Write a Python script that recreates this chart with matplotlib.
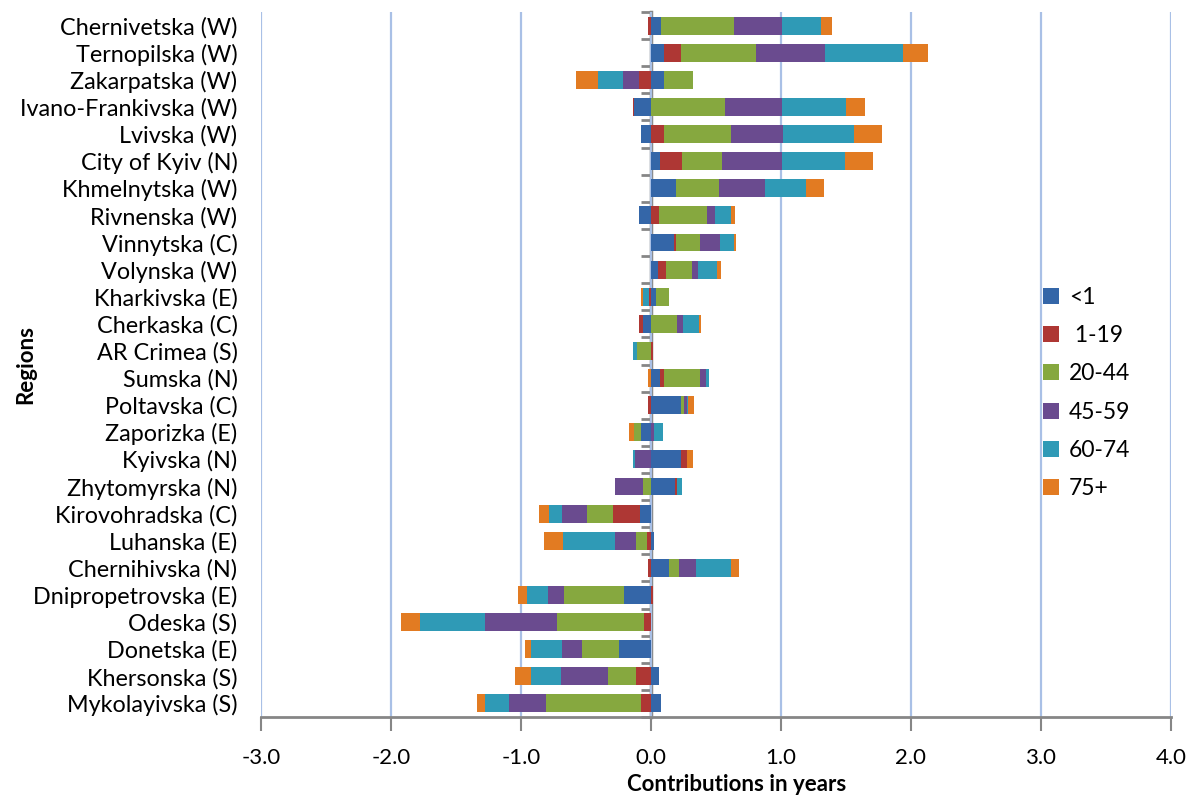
import matplotlib
matplotlib.use("Agg")
import matplotlib.pyplot as plt
import numpy as np
from matplotlib.patches import Patch

plt.rcParams['font.family'] = ['Lato', 'DejaVu Sans']

regions = ["Chernivetska (W)", "Ternopilska (W)", "Zakarpatska (W)", "Ivano-Frankivska (W)",
           "Lvivska (W)", "City of Kyiv (N)", "Khmelnytska (W)", "Rivnenska (W)",
           "Vinnytska (C)", "Volynska (W)", "Kharkivska (E)", "Cherkaska (C)",
           "AR Crimea (S)", "Sumska (N)", "Poltavska (C)", "Zaporizka (E)",
           "Kyivska (N)", "Zhytomyrska (N)", "Kirovohradska (C)", "Luhanska (E)",
           "Chernihivska (N)", "Dnipropetrovska (E)", "Odeska (S)", "Donetska (E)",
           "Khersonska (S)", "Mykolayivska (S)"]

age_groups = ["<1", " 1-19", "20-44", "45-59", "60-74", "75+"]

lt1 = [0.08, 0.10, 0.10, -0.13, -0.08, 0.07, 0.19, -0.095, 0.18, 0.05, 0.04, -0.06, 0.0,
       0.07, 0.23, -0.077, 0.23, 0.185, -0.087, 0.02, 0.138, -0.208, 0.0, -0.246, 0.062, 0.08]
a1_19 = [-0.025, 0.13, -0.09, -0.01, 0.10, 0.165, 0.0, 0.065, 0.01, 0.065, -0.015, -0.03, 0.013,
         0.027, -0.02, 0.0, 0.046, 0.018, -0.205, -0.03, -0.02, 0.018, -0.054, 0.0, -0.115, -0.077]
a20_44 = [0.555, 0.577, 0.22, 0.57, 0.518, 0.313, 0.33, 0.365, 0.19, 0.2, 0.10, 0.197, -0.11,
          0.277, 0.026, -0.051, 0.0, -0.062, -0.203, -0.087, 0.08, -0.46, -0.67, -0.287, -0.213, -0.73]
a45_59 = [0.37, 0.53, -0.125, 0.44, 0.40, 0.457, 0.354, 0.06, 0.15, 0.047, 0.0, 0.046, 0.0,
          0.05, 0.02, 0.023, -0.12, -0.215, -0.19, -0.162, 0.128, -0.123, -0.556, -0.151, -0.364, -0.285]
a60_74 = [0.30, 0.60, -0.195, 0.49, 0.547, 0.49, 0.318, 0.125, 0.105, 0.146, -0.05, 0.123, -0.03,
          0.02, 0.01, 0.067, -0.02, 0.035, -0.10, -0.40, 0.27, -0.16, -0.495, -0.238, -0.231, -0.182]
a75p = [0.09, 0.195, -0.17, 0.145, 0.21, 0.21, 0.136, 0.03, 0.022, 0.03, -0.015, 0.015, 0.0,
        -0.02, 0.041, -0.038, 0.044, 0.0, -0.077, -0.141, 0.062, -0.074, -0.151, -0.051, -0.126, -0.064]

series = [lt1, a1_19, a20_44, a45_59, a60_74, a75p]
colors = ["#3466A8", "#AE3734", "#86A83F", "#6A4B8F", "#2F9AB6", "#E27B22"]

W, H = 1191, 798
fig = plt.figure(figsize=(W / 100, H / 100), dpi=100)
ax = fig.add_axes([261 / W, 1 - 717 / H, 910 / W, (717 - 12) / H])

y = np.arange(len(regions))
pos_base = np.zeros(len(regions))
neg_base = np.zeros(len(regions))
for vals, col, lab in zip(series, colors, age_groups):
    v = np.array(vals, dtype=float)
    left = np.where(v >= 0, pos_base, neg_base)
    ax.barh(y, v, left=left, height=0.66, color=col, label=lab, zorder=3)
    pos_base += np.where(v >= 0, v, 0)
    neg_base += np.where(v < 0, v, 0)

ax.set_xlim(-3, 4)
ax.set_ylim(len(regions) - 0.5, -0.5)
ax.set_xticks(np.arange(-3, 5))
ax.set_xticklabels([f"{t:.1f}" for t in np.arange(-3, 5)], fontsize=16)
ax.set_yticks(y)
ax.set_yticklabels(regions, fontsize=16.8)
ax.tick_params(axis='y', length=0, pad=17)
ax.tick_params(axis='x', length=10, width=1.5, color="#868686", direction='out', pad=12)

ax.grid(axis='x', color="#A9C0E6", linewidth=1.6, zorder=0)
for s in ['top', 'right', 'left']:
    ax.spines[s].set_visible(False)
ax.spines['bottom'].set_color("#868686")
ax.spines['bottom'].set_linewidth(2)

sec = ax.secondary_yaxis(3 / 7)
sec.set_yticks(np.arange(len(regions) + 1) - 0.5)
sec.set_yticklabels([])
sec.tick_params(axis='y', length=7, width=2, color="#868686", direction='out')
sec.spines['left'].set_color("#868686")
sec.spines['left'].set_linewidth(2.5)
sec.spines['left'].set_zorder(4)

ax.set_xlabel("Contributions in years", fontsize=16, fontweight='bold')
ax.xaxis.set_label_coords(476 / 910, -(774 - 717) / 705)
ax.set_ylabel("Regions", fontsize=16, fontweight='bold')
ax.yaxis.set_label_coords(-(261 - 36) / 910, 0.5)

handles = [Patch(facecolor=c, edgecolor='none') for c in colors]
ax.legend(handles, age_groups, loc='center left', bbox_to_anchor=(1022 / W, 1 - 393 / H),
          bbox_transform=fig.transFigure, frameon=False, fontsize=16.5,
          handlelength=0.7, handleheight=0.7, handletextpad=0.45, labelspacing=0.75)

fig.savefig("out.png", dpi=100)
